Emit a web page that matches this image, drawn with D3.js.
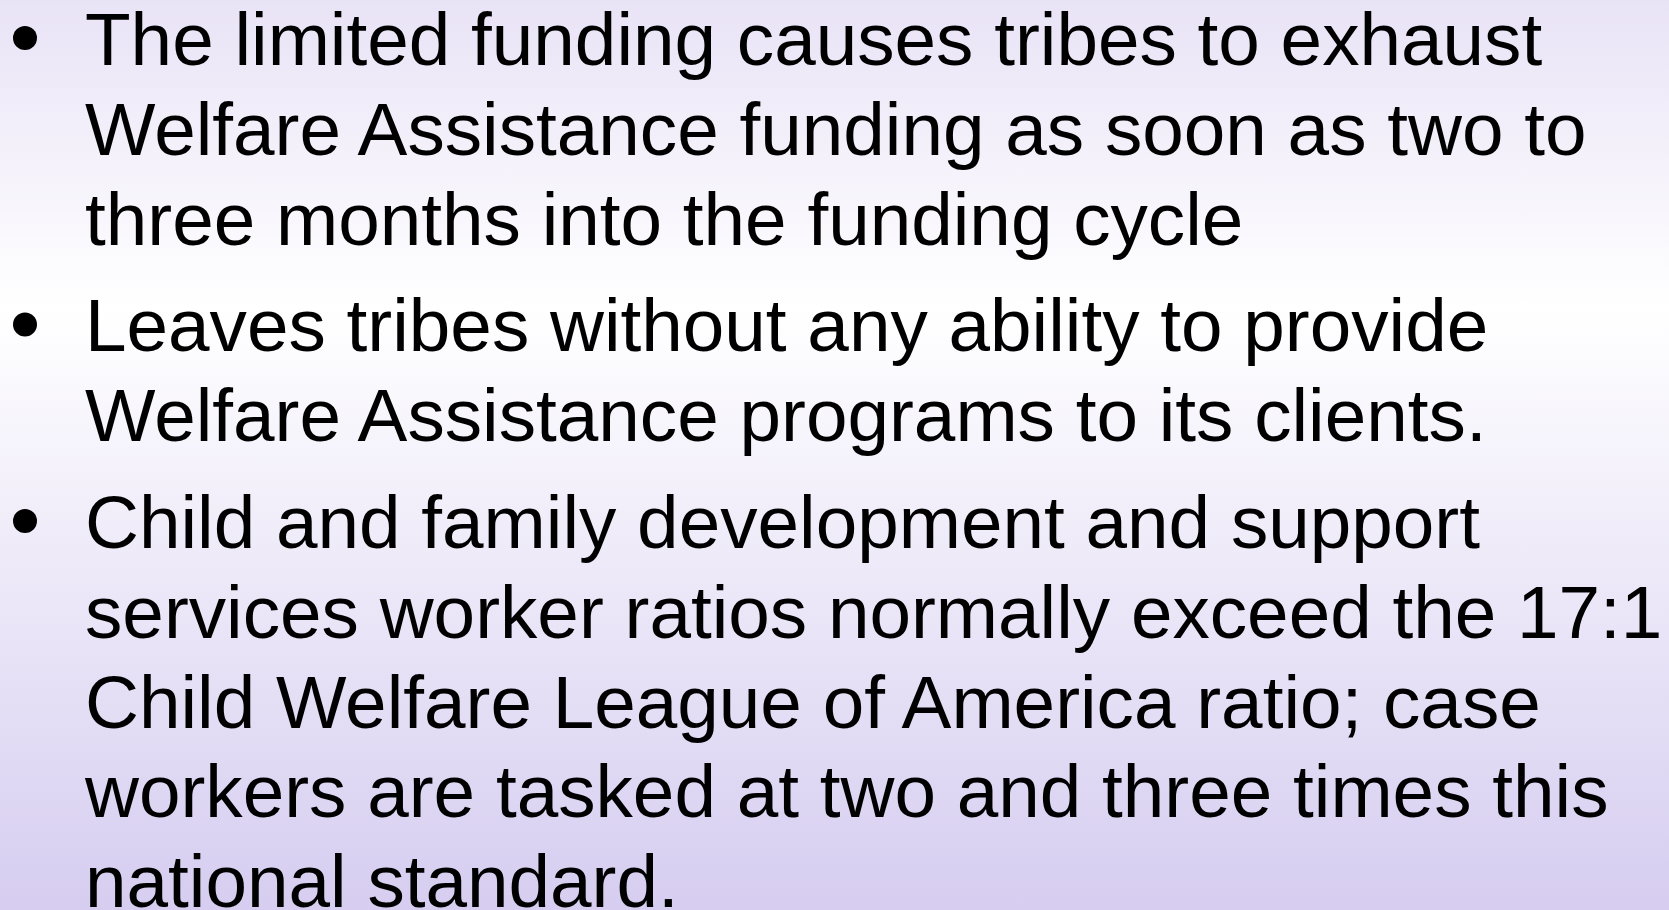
<!DOCTYPE html>
<html>
<head>
<meta charset="utf-8">
<script src="https://cdn.jsdelivr.net/npm/d3@7"></script>
<style>
html,body{margin:0;padding:0;overflow:hidden;}
svg{display:block;}
</style>
</head>
<body>
<svg id="chart" width="1669" height="910"></svg>
<script>
const bullet1 = [
  "The limited funding causes tribes to exhaust",
  "Welfare Assistance funding as soon as two to",
  "three months into the funding cycle"
];
const bullet2 = [
  "Leaves tribes without any ability to provide",
  "Welfare Assistance programs to its clients."
];
const bullet3 = [
  "Child and family development and support",
  "services worker ratios normally exceed the 17:1",
  "Child Welfare League of America ratio; case",
  "workers are tasked at two and three times this",
  "national standard."
];
const paragraphs = [bullet1, bullet2, bullet3];

const W = 1669, H = 910;
const svg = d3.select("#chart");

// background gradient
const defs = svg.append("defs");
const grad = defs.append("linearGradient").attr("id","bg")
  .attr("x1",0).attr("y1",0).attr("x2",0).attr("y2",1);
grad.append("stop").attr("offset","0%").attr("stop-color","#e9e3f6");
grad.append("stop").attr("offset","34%").attr("stop-color","#ffffff");
grad.append("stop").attr("offset","100%").attr("stop-color","#d6cdf0");
svg.append("rect").attr("width",W).attr("height",H).attr("fill","url(#bg)");

// flatten lines
const lines = [];
paragraphs.forEach((p, pi) => p.forEach((t, li) => lines.push({text:t, para:pi, first:li===0})));
lines.forEach((d,i)=>{ d.idx = i; });

const yLine = d3.scaleLinear().domain([0, 1]).range([65, 65 + 89.8]);
const paraGap = 17;
const baseY = d => yLine(d.idx) + d.para * paraGap;

const g = svg.append("g");
g.selectAll("text.line").data(lines).join("text")
  .attr("class","line")
  .attr("x", 85)
  .attr("y", baseY)
  .attr("font-family", "'Liberation Sans', Arial, sans-serif")
  .attr("font-size", 74.7)
  .attr("fill", "#000")
  .text(d => d.text);

g.selectAll("circle.bullet").data(lines.filter(d => d.first)).join("circle")
  .attr("class","bullet")
  .attr("cx", 25)
  .attr("cy", d => baseY(d) - 27)
  .attr("r", 12)
  .attr("fill", "#000");
</script>
</body>
</html>
